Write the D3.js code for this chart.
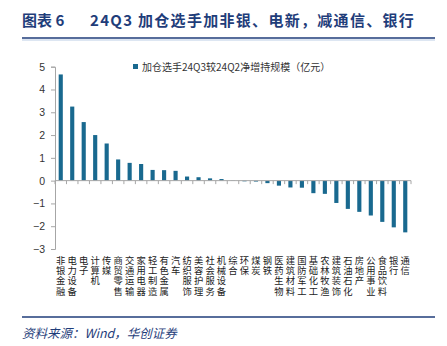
<!DOCTYPE html>
<html>
<head>
<meta charset="utf-8">
<style>
  body { margin: 0; background: #fff; }
  svg { display: block; }
</style>
</head>
<body>
<svg width="447" height="346"></svg>
<script src="https://d3js.org/d3.v7.min.js"></script>
<script>
// industries, left to right
const categories = ["非银金融", "电力设备", "电子", "计算机", "传媒", "商贸零售", "交通运输", "家用电器",
  "轻工制造", "有色金属", "汽车", "纺织服饰", "美容护理", "社会服务", "机械设备", "综合", "环保",
  "煤炭", "钢铁", "医药生物", "建筑材料", "国防军工", "基础化工", "农林牧渔", "建筑装饰",
  "石油石化", "房地产", "公用事业", "食品饮料", "银行", "通信"];
// net increase of holdings, 24Q3 vs 24Q2 (亿元)
const values = [4.66, 3.25, 2.57, 2.0, 1.63, 0.93, 0.78, 0.73, 0.47, 0.46, 0.43, 0.18, 0.15, 0.1,
  0.07, 0.01, -0.03, -0.04, -0.11, -0.22, -0.3, -0.31, -0.55, -0.58, -0.98, -1.24, -1.37,
  -1.53, -1.81, -2.05, -2.27];
const yTicks = [-3, -2, -1, 0, 1, 2, 3, 4, 5];
const seriesName = "加仓选手24Q3较24Q2净增持规模（亿元）";

const svg = d3.select("svg");
const navy = "#1f3d7a";
const barColor = "#19698f";
const cjk = "'Noto Sans CJK SC', sans-serif";

// header
svg.append("text")
  .attr("x", 22).attr("y", 26)
  .style("font-family", cjk).style("font-weight", "bold")
  .style("font-size", "15px").style("fill", navy)
  .text("图表 6");
svg.append("text")
  .attr("x", 90).attr("y", 26)
  .style("font-family", cjk).style("font-weight", "bold")
  .style("font-size", "15px").style("fill", navy)
  .style("letter-spacing", "1.3px")
  .text("24Q3 加仓选手加非银、电新，减通信、银行");
svg.append("line").attr("x1", 22).attr("x2", 435).attr("y1", 38).attr("y2", 38)
  .style("stroke", navy).style("stroke-width", 1.5);
svg.append("rect").attr("x", 22).attr("y", 39).attr("width", 413).attr("height", 2)
  .style("fill", "#dde6f2");

const x = d3.scaleBand().domain(categories).range([55, 411]).paddingInner(0.64).paddingOuter(0.32);
const y = d3.scaleLinear().domain([-3, 5]).range([249, 66.7]);

// y axis
const yAxis = svg.append("g").attr("transform", "translate(55,0)")
  .call(d3.axisLeft(y).tickValues(yTicks).tickSize(4).tickPadding(6));
yAxis.select(".domain").style("stroke", "#a6a6a6");
yAxis.selectAll(".tick line").style("stroke", "#a6a6a6");
yAxis.selectAll("text").style("font-family", "'Liberation Sans', Arial, sans-serif")
  .style("font-size", "10.5px").style("fill", "#333");

// bars
svg.append("g").selectAll("rect")
  .data(values)
  .join("rect")
  .attr("x", (d, i) => x(categories[i]))
  .attr("width", x.bandwidth())
  .attr("y", d => y(Math.max(0, d)))
  .attr("height", d => Math.abs(y(d) - y(0)))
  .style("fill", barColor);

// zero line with ticks between categories
svg.append("line").attr("x1", 55).attr("x2", 411).attr("y1", y(0)).attr("y2", y(0))
  .style("stroke", "#a6a6a6");
svg.append("g").selectAll("line")
  .data(d3.range(categories.length + 1))
  .join("line")
  .attr("x1", i => 55 + i * x.step())
  .attr("x2", i => 55 + i * x.step())
  .attr("y1", y(0)).attr("y2", y(0) + 3.5)
  .style("stroke", "#a6a6a6");

// category labels, one character per row
const lab = svg.append("g").selectAll("g")
  .data(categories)
  .join("g")
  .attr("transform", d => `translate(${x(d) + x.bandwidth() / 2},0)`);
lab.selectAll("text")
  .data(d => Array.from(d))
  .join("text")
  .attr("x", 0)
  .attr("y", (c, i) => 263.5 + i * 10.4)
  .attr("text-anchor", "middle")
  .style("font-family", "'Liberation Serif', 'Noto Sans CJK SC', sans-serif")
  .style("font-size", "9.3px").style("fill", "#222")
  .text(c => c);

// legend
svg.append("rect").attr("x", 133).attr("y", 64).attr("width", 5).attr("height", 5).style("fill", barColor);
svg.append("text").attr("x", 142).attr("y", 70.5)
  .style("font-family", cjk).style("font-size", "10px").style("fill", "#333")
  .text(seriesName);

// footer
svg.append("line").attr("x1", 22).attr("x2", 435).attr("y1", 317).attr("y2", 317)
  .style("stroke", navy).style("stroke-width", 1.5);
svg.append("text").attr("x", 22).attr("y", 338)
  .style("font-family", cjk).style("font-style", "italic")
  .style("font-size", "12.5px").style("fill", navy)
  .text("资料来源：Wind，华创证券");
</script>
</body>
</html>
